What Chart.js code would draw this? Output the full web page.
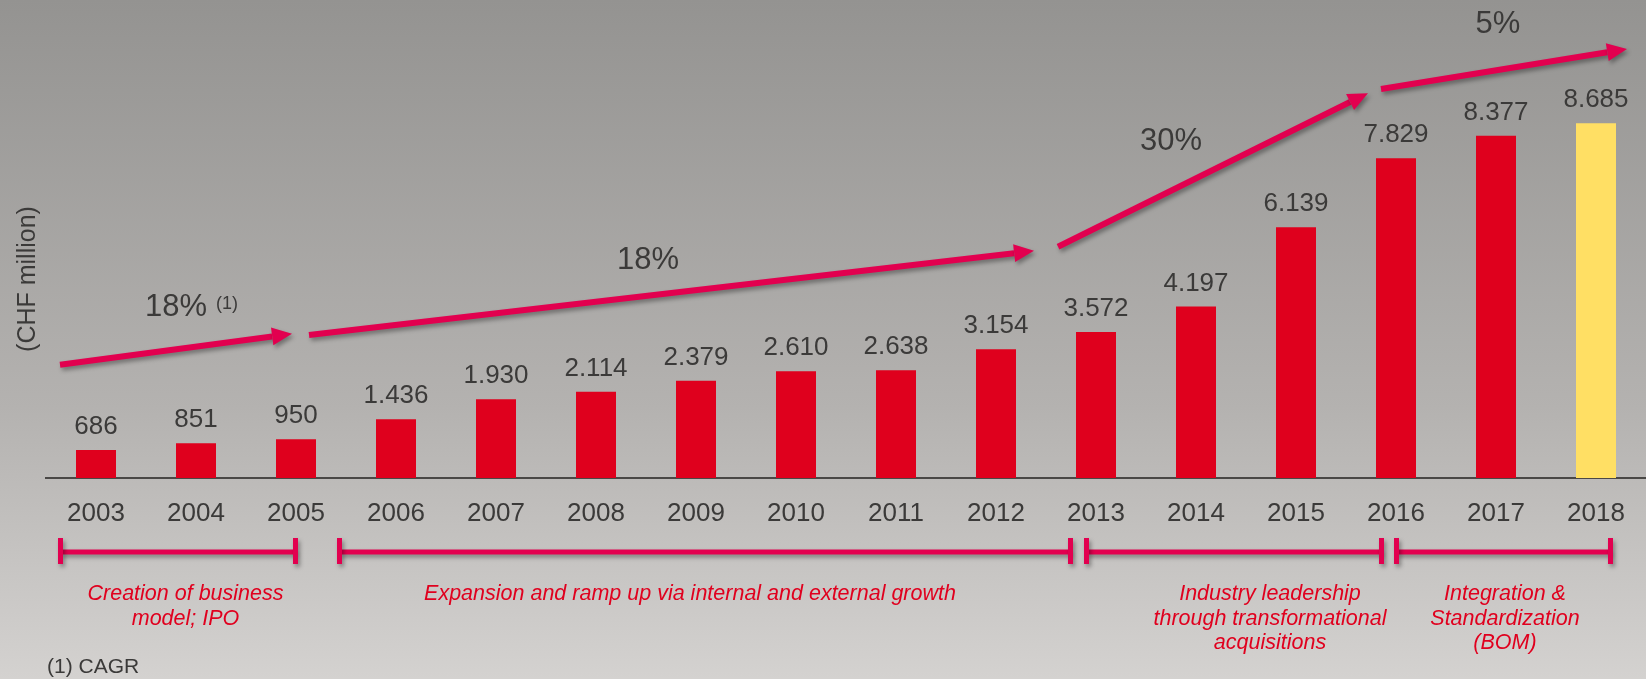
<!DOCTYPE html>
<html>
<head>
<meta charset="utf-8">
<title>Revenue development</title>
<script src="https://cdn.jsdelivr.net/npm/chart.js@4.4.1/dist/chart.umd.min.js"></script>
<style>
  html, body { margin: 0; padding: 0; overflow: hidden; }
  body { background: linear-gradient(to bottom, #949391 0%, #b4b2b0 60%, #d4d2d0 100%); }
  #wrap { position: relative; width: 1646px; height: 679px; }
</style>
</head>
<body>
<div id="wrap"><canvas id="revenueChart"></canvas></div>
<script>
// #### Data
const years = ['2003', '2004', '2005', '2006', '2007', '2008', '2009', '2010',
               '2011', '2012', '2013', '2014', '2015', '2016', '2017', '2018'];
const revenue = [686, 851, 950, 1436, 1930, 2114, 2379, 2610,
                 2638, 3154, 3572, 4197, 6139, 7829, 8377, 8685];
const cagrLabels = ['18%', '18%', '30%', '5%'];
const periodLabels = [
    ['Creation of business', 'model; IPO'],
    ['Expansion and ramp up via internal and external growth'],
    ['Industry leadership', 'through transformational', 'acquisitions'],
    ['Integration &', 'Standardization', '(BOM)']
];
const unitLabel = '(CHF million)';
const footnote = '(1) CAGR';

// #### Annotation layout (category index / value units)
const arrows = [
    { from: [-0.36, 2770], to: [1.96, 3530], text: [0.8, 3960], note: '(1)' },
    { from: [2.13, 3500], to: [9.38, 5560], text: [5.52, 5120] },
    { from: [9.62, 5660], to: [12.72, 9420], text: [10.75, 8040] },
    { from: [12.85, 9520], to: [15.31, 10500], text: [14.02, 10900] }
];
const brackets = [[-0.355, 1.995], [2.435, 9.745], [9.905, 12.855], [13.005, 15.145]];
const periodCenters = [0.895, 5.94, 11.74, 14.09];

const RED = '#df001d';
const YELLOW = '#ffdf64';
const ACCENT = '#e2004f';
const TEXT = '#3b3a39';
const FONT = '"Liberation Sans", Arial, sans-serif';

function font(size, style) {
    return (style ? style + ' ' : '') + size + 'px ' + FONT;
}

function drawArrow(ctx, x1, y1, x2, y2) {
    const angle = Math.atan2(y2 - y1, x2 - x1);
    const head = 20;
    const bx = x2 - head * Math.cos(angle);
    const by = y2 - head * Math.sin(angle);
    ctx.beginPath();
    ctx.moveTo(x1, y1);
    ctx.lineTo(bx, by);
    ctx.stroke();
    ctx.beginPath();
    ctx.moveTo(x2, y2);
    ctx.lineTo(bx + 9 * Math.sin(angle), by - 9 * Math.cos(angle));
    ctx.lineTo(bx - 9 * Math.sin(angle), by + 9 * Math.cos(angle));
    ctx.closePath();
    ctx.fill();
}

// Value labels, growth arrows, period brackets and side texts
const overlay = {
    id: 'overlay',
    afterDatasetsDraw(chart) {
        const ctx = chart.ctx;
        const x = chart.scales.x;
        const y = chart.scales.y;
        const meta = chart.getDatasetMeta(0);

        ctx.save();
        ctx.font = font(26);
        ctx.fillStyle = TEXT;
        ctx.textAlign = 'center';
        ctx.textBaseline = 'alphabetic';
        meta.data.forEach((bar, i) => {
            ctx.fillText(revenue[i].toLocaleString('de-DE'), bar.x, bar.y - 16);
        });

        // growth arrows
        ctx.shadowColor = 'rgba(0,0,0,0.35)';
        ctx.shadowBlur = 4;
        ctx.shadowOffsetX = 2;
        ctx.shadowOffsetY = 3;
        ctx.strokeStyle = ACCENT;
        ctx.fillStyle = ACCENT;
        ctx.lineWidth = 6;
        arrows.forEach(a => {
            drawArrow(ctx,
                x.getPixelForValue(a.from[0]), y.getPixelForValue(a.from[1]),
                x.getPixelForValue(a.to[0]), y.getPixelForValue(a.to[1]));
        });

        // period brackets
        const by = 552;
        brackets.forEach(b => {
            const x1 = x.getPixelForValue(b[0]);
            const x2 = x.getPixelForValue(b[1]);
            ctx.lineWidth = 5;
            ctx.beginPath();
            ctx.moveTo(x1, by);
            ctx.lineTo(x2, by);
            ctx.stroke();
            ctx.fillRect(x1 - 2.5, by - 14, 5, 26);
            ctx.fillRect(x2 - 2.5, by - 14, 5, 26);
        });
        ctx.shadowColor = 'transparent';

        // CAGR labels
        ctx.fillStyle = TEXT;
        ctx.font = font(31);
        arrows.forEach((a, i) => {
            const tx = x.getPixelForValue(a.text[0]);
            const ty = y.getPixelForValue(a.text[1]);
            ctx.textAlign = 'center';
            ctx.fillText(cagrLabels[i], tx, ty);
            if (a.note) {
                const w = ctx.measureText(cagrLabels[i]).width;
                ctx.font = font(18);
                ctx.textAlign = 'left';
                ctx.fillText(a.note, tx + w / 2 + 9, ty - 7);
                ctx.font = font(31);
            }
        });

        // period descriptions
        ctx.fillStyle = '#e0001e';
        ctx.font = font(21.5, 'italic');
        ctx.textAlign = 'center';
        periodLabels.forEach((lines, i) => {
            const cx = x.getPixelForValue(periodCenters[i]);
            lines.forEach((line, j) => {
                ctx.fillText(line, cx, 600 + j * 24.5);
            });
        });

        // unit and footnote
        ctx.fillStyle = TEXT;
        ctx.font = font(21);
        ctx.textAlign = 'left';
        ctx.fillText(footnote, 47, 673);

        ctx.font = font(25);
        ctx.translate(35, 279);
        ctx.rotate(-Math.PI / 2);
        ctx.textAlign = 'center';
        ctx.fillText(unitLabel, 0, 0);
        ctx.restore();
    }
};

const chart = new Chart(document.getElementById('revenueChart'), {
    type: 'bar',
    data: {
        labels: years,
        datasets: [{
            data: revenue,
            backgroundColor: years.map((_, i) => i === years.length - 1 ? YELLOW : RED),
            barPercentage: 0.4,
            categoryPercentage: 1.0
        }]
    },
    options: {
        responsive: true,
        maintainAspectRatio: false,
        animation: false,
        layout: { padding: { left: 46, right: 0, top: 0, bottom: 0 } },
        scales: {
            x: {
                grid: { display: false, drawTicks: false },
                border: { display: true, color: '#4a4846', width: 2 },
                ticks: { color: TEXT, font: { family: FONT, size: 26 }, padding: 20, maxRotation: 0 },
                afterFit: scale => { scale.height = 201; }
            },
            y: {
                display: false,
                min: 0,
                max: 11700
            }
        },
        plugins: {
            legend: { display: false },
            tooltip: { enabled: false }
        }
    },
    plugins: [overlay]
});
</script>
</body>
</html>
